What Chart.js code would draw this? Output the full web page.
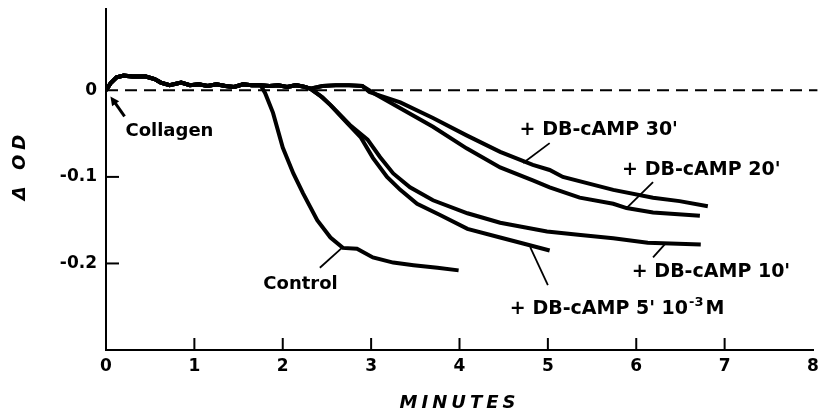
<!DOCTYPE html>
<html>
<head>
<meta charset="utf-8">
<script src="https://cdn.jsdelivr.net/npm/chart.js@4.4.0/dist/chart.umd.min.js"></script>
<style>
  html, body { margin: 0; padding: 0; background: #fff; }
</style>
</head>
<body>
<canvas id="odChart" width="820" height="416"></canvas>
<script>
// tempo em minutos, variação de densidade óptica (ΔOD)
const baseT = [0, 0.05, 0.12, 0.2, 0.3, 0.45, 0.55, 0.62, 0.72, 0.85, 0.95, 1.05, 1.15, 1.25, 1.35, 1.45, 1.55, 1.65, 1.75];
const baseV = [0, 0.008, 0.015, 0.017, 0.016, 0.016, 0.013, 0.009, 0.006, 0.009, 0.006, 0.007, 0.005, 0.007, 0.005, 0.004, 0.007, 0.006, 0.006];

const controlT = [1.80, 1.89, 2.00, 2.12, 2.23, 2.39, 2.54, 2.68, 2.84, 3.02, 3.25, 3.48, 3.75, 3.99];
const controlV = [-0.003, -0.026, -0.066, -0.096, -0.119, -0.150, -0.170, -0.182, -0.183, -0.193, -0.199, -0.202, -0.205, -0.208];

// trecho comum antes da queda das curvas com DB-cAMP
const midT = [1.85, 1.95, 2.05, 2.15, 2.25, 2.31];
const midV = [0.005, 0.006, 0.004, 0.006, 0.004, 0.002];

const camp5T = [2.42, 2.54, 2.73, 2.88, 3.02, 3.18, 3.33, 3.52, 3.78, 4.09, 4.46, 4.72, 5.02];
const camp5V = [-0.006, -0.017, -0.038, -0.054, -0.078, -0.100, -0.115, -0.131, -0.144, -0.160, -0.170, -0.177, -0.185];

const camp10T = [2.45, 2.57, 2.76, 2.96, 3.10, 3.25, 3.44, 3.70, 4.09, 4.46, 4.99, 5.37, 5.74, 6.13, 6.73];
const camp10V = [-0.008, -0.020, -0.040, -0.057, -0.077, -0.096, -0.112, -0.127, -0.142, -0.153, -0.163, -0.167, -0.171, -0.176, -0.178];

// leve elevação antes da queda (20' e 30')
const humpT = [2.45, 2.6, 2.75, 2.9];
const humpV = [0.005, 0.006, 0.006, 0.005];

const camp20T = [3.06, 3.32, 3.70, 4.08, 4.46, 4.83, 5.02, 5.36, 5.74, 5.89, 6.19, 6.72];
const camp20V = [-0.005, -0.020, -0.042, -0.067, -0.089, -0.104, -0.112, -0.124, -0.131, -0.136, -0.141, -0.145];

const camp30T = [2.98, 3.33, 3.70, 4.08, 4.46, 4.83, 5.02, 5.17, 5.74, 6.19, 6.49, 6.81];
const camp30V = [-0.002, -0.014, -0.032, -0.052, -0.071, -0.086, -0.092, -0.100, -0.115, -0.124, -0.128, -0.134];

const zeroT = [0, 8.05];
const zeroV = [0, 0];

const xMarks = [1, 2, 3, 4, 5, 6, 7];
const yMarks = [-0.1, -0.2];
const yTickVals = [-0.2, -0.1, 0];

const pts = (t, v) => t.map((x, i) => ({ x, y: v[i] }));

// rótulos e linhas de chamada (coordenadas em minutos / ΔOD)
const labels = [
  { text: 'Collagen', x: 0.22, y: -0.053, size: 18 },
  { text: 'Control', x: 1.78, y: -0.230, size: 18 },
  { text: "+ DB-cAMP 30'", x: 4.68, y: -0.052, size: 19 },
  { text: "+ DB-cAMP 20'", x: 5.84, y: -0.098, size: 19 },
  { text: "+ DB-cAMP 10'", x: 5.95, y: -0.216, size: 19 },
  { text: "+ DB-cAMP 5' 10", sup: '-3', after: 'M', x: 4.57, y: -0.258, size: 19 }
];
const leaders = [
  [2.42, -0.205, 2.67, -0.182],
  [5.02, -0.061, 4.72, -0.084],
  [6.19, -0.106, 5.89, -0.136],
  [6.33, -0.177, 6.19, -0.193],
  [4.80, -0.181, 5.00, -0.225]
];

const FONT = 'DejaVu Sans';

const decor = {
  id: 'decor',
  afterDraw(chart) {
    const { ctx, scales: { x, y } } = chart;
    ctx.save();
    ctx.strokeStyle = '#000';
    ctx.fillStyle = '#000';

    // marcas dos eixos para dentro
    ctx.lineWidth = 2;
    xMarks.forEach(v => {
      const px = x.getPixelForValue(v);
      ctx.beginPath();
      ctx.moveTo(px, y.bottom);
      ctx.lineTo(px, y.bottom - 12);
      ctx.stroke();
    });
    yMarks.forEach(v => {
      const py = y.getPixelForValue(v);
      ctx.beginPath();
      ctx.moveTo(x.left, py);
      ctx.lineTo(x.left + 13, py);
      ctx.stroke();
    });

    // linhas de chamada
    ctx.lineWidth = 1.8;
    leaders.forEach(l => {
      ctx.beginPath();
      ctx.moveTo(x.getPixelForValue(l[0]), y.getPixelForValue(l[1]));
      ctx.lineTo(x.getPixelForValue(l[2]), y.getPixelForValue(l[3]));
      ctx.stroke();
    });

    // seta do colágeno
    const tipX = x.getPixelForValue(0.05), tipY = y.getPixelForValue(-0.007);
    const tailX = x.getPixelForValue(0.21), tailY = y.getPixelForValue(-0.030);
    const ang = Math.atan2(tipY - tailY, tipX - tailX);
    ctx.lineWidth = 3;
    ctx.beginPath();
    ctx.moveTo(tailX, tailY);
    ctx.lineTo(tipX - 5 * Math.cos(ang), tipY - 5 * Math.sin(ang));
    ctx.stroke();
    ctx.beginPath();
    ctx.moveTo(tipX, tipY);
    ctx.lineTo(tipX - 10 * Math.cos(ang - 0.45), tipY - 10 * Math.sin(ang - 0.45));
    ctx.lineTo(tipX - 10 * Math.cos(ang + 0.45), tipY - 10 * Math.sin(ang + 0.45));
    ctx.closePath();
    ctx.fill();

    // textos
    ctx.textBaseline = 'alphabetic';
    ctx.textAlign = 'left';
    labels.forEach(l => {
      const px = x.getPixelForValue(l.x), py = y.getPixelForValue(l.y);
      ctx.font = `bold ${l.size}px "${FONT}"`;
      ctx.fillText(l.text, px, py);
      if (l.sup) {
        const w = ctx.measureText(l.text).width;
        ctx.font = `bold 13px "${FONT}"`;
        ctx.fillText(l.sup, px + w + 1, py - 8);
        const ws = ctx.measureText(l.sup).width;
        ctx.font = `bold ${l.size}px "${FONT}"`;
        ctx.fillText(l.after, px + w + ws + 3, py);
      }
    });

    // títulos dos eixos
    ctx.font = `italic bold 18px "${FONT}"`;
    ctx.letterSpacing = '4px';
    ctx.textAlign = 'center';
    ctx.textBaseline = 'middle';
    ctx.fillText('MINUTES', x.getPixelForValue(4), 403);
    ctx.translate(20, 165);
    ctx.rotate(-Math.PI / 2);
    ctx.letterSpacing = '5px';
    ctx.fillText('\u0394 OD', 0, 0);
    ctx.restore();
  }
};

const line = (t, v, extra) => Object.assign({
  data: pts(t, v),
  borderColor: '#000',
  borderWidth: 4,
  pointRadius: 0,
  tension: 0,
  fill: false
}, extra || {});

new Chart(document.getElementById('odChart'), {
  type: 'line',
  data: {
    datasets: [
      line(zeroT, zeroV, { borderWidth: 2, borderDash: [12, 7], clip: false }),
      line([...baseT, ...controlT], [...baseV, ...controlV]),
      line([...baseT, ...midT, ...camp5T], [...baseV, ...midV, ...camp5V]),
      line([...baseT, ...midT, ...camp10T], [...baseV, ...midV, ...camp10V]),
      line([...baseT, ...midT, ...humpT, ...camp20T], [...baseV, ...midV, ...humpV, ...camp20V]),
      line([...baseT, ...midT, ...humpT, ...camp30T], [...baseV, ...midV, ...humpV, ...camp30V])
    ]
  },
  options: {
    responsive: false,
    animation: false,
    layout: { padding: { top: 9, right: 7, left: 0, bottom: 0 } },
    plugins: { legend: { display: false }, tooltip: { enabled: false } },
    scales: {
      x: {
        type: 'linear',
        min: 0,
        max: 8,
        ticks: { stepSize: 1, color: '#000', padding: 6, maxRotation: 0, font: { family: FONT, size: 17, weight: 'bold' } },
        grid: { display: false, drawTicks: false },
        border: { display: true, color: '#000', width: 2 },
        afterFit: s => { s.height = 66; s.paddingLeft = 0; s.paddingRight = 0; }
      },
      y: {
        type: 'linear',
        min: -0.3,
        max: 0.094,
        afterBuildTicks: s => { s.ticks = yTickVals.map(v => ({ value: v })); },
        ticks: {
          color: '#000',
          padding: 9,
          font: { family: FONT, size: 17, weight: 'bold' },
          callback: v => (v === 0 ? '0' : v.toFixed(1))
        },
        grid: { display: false, drawTicks: false },
        border: { display: true, color: '#000', width: 2 },
        afterFit: s => { s.width = 106; s.paddingTop = 0; s.paddingBottom = 0; }
      }
    }
  },
  plugins: [decor]
});
</script>
</body>
</html>
